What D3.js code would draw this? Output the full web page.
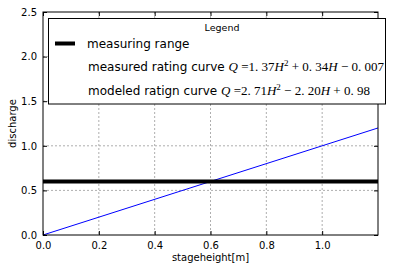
<!DOCTYPE html>
<html>
<head>
<meta charset="utf-8">
<script src="https://cdn.jsdelivr.net/npm/d3@7"></script>
<style>
  body { margin: 0; background: #fff; }
  text { font-family: "DejaVu Sans", sans-serif; }
</style>
</head>
<body>
<div id="vis"></div>
<script>
const xTicks = [0, 0.2, 0.4, 0.6, 0.8, 1.0];
const yTicks = [0, 0.5, 1.0, 1.5, 2.0, 2.5];
const stageH = [0, 1.2];
const dischargeQ = [0, 1.2];
const measuringRange = 0.6;
const legendLabels = ["measuring range", "measured rating curve ", "modeled ratign curve "];
// pieces of the two formulas: [text, italic, superscript]
const formula1 = [["Q", true], [" =1. 37", false], ["H", true], ["2", false, "sup"], [" + 0. 34", false], ["H", true], [" \u2212 0. 007", false]];
const formula2 = [["Q", true], [" =2. 71", false], ["H", true], ["2", false, "sup"], [" \u2212 2. 20", false], ["H", true], [" + 0. 98", false]];

const margin = { top: 12, right: 15, bottom: 36, left: 43 };
const W = 393, H = 271;
const width = W - margin.left - margin.right;
const height = H - margin.top - margin.bottom;

const svg = d3.select("#vis").append("svg")
  .attr("width", W).attr("height", H)
  .append("g")
  .attr("transform", `translate(${margin.left},${margin.top})`);

const x = d3.scaleLinear().domain([0, 1.2]).range([0, width]);
const y = d3.scaleLinear().domain([0, 2.5]).range([height, 0]);

// grid
svg.append("g").selectAll("line").data(xTicks.slice(1)).join("line")
  .attr("x1", d => x(d)).attr("x2", d => x(d))
  .attr("y1", 0).attr("y2", height)
  .attr("stroke", "#999").attr("stroke-width", 0.8).attr("stroke-dasharray", "2,2");
svg.append("g").selectAll("line").data(yTicks.slice(1, -1)).join("line")
  .attr("x1", 0).attr("x2", width)
  .attr("y1", d => y(d)).attr("y2", d => y(d))
  .attr("stroke", "#999").attr("stroke-width", 0.8).attr("stroke-dasharray", "2,2");

// data lines
svg.append("path")
  .datum(stageH.map((h, i) => [h, dischargeQ[i]]))
  .attr("fill", "none").attr("stroke", "#0000ff").attr("stroke-width", 1)
  .attr("d", d3.line().x(d => x(d[0])).y(d => y(d[1])));

svg.append("line")
  .attr("x1", 0).attr("x2", width)
  .attr("y1", y(measuringRange)).attr("y2", y(measuringRange))
  .attr("stroke", "#000").attr("stroke-width", 4);

// axes, ticks inward on all sides
svg.append("g").attr("transform", `translate(0,${height})`)
  .call(d3.axisBottom(x).tickValues(xTicks).tickSizeInner(-4).tickSizeOuter(0).tickPadding(7).tickFormat(d3.format(".1f")));
svg.append("g")
  .call(d3.axisLeft(y).tickValues(yTicks).tickSizeInner(-4).tickSizeOuter(0).tickPadding(6).tickFormat(d3.format(".1f")));
svg.append("g")
  .call(d3.axisTop(x).tickValues(xTicks).tickSizeInner(-4).tickSizeOuter(0).tickFormat(""));
svg.append("g").attr("transform", `translate(${width},0)`)
  .call(d3.axisRight(y).tickValues(yTicks).tickSizeInner(-4).tickSizeOuter(0).tickFormat(""));
svg.selectAll(".domain").remove();
svg.selectAll(".tick text").attr("font-size", 10).attr("fill", "#000").attr("font-family", "DejaVu Sans");
svg.selectAll(".tick line").attr("stroke", "#000");

svg.append("rect")
  .attr("width", width).attr("height", height)
  .attr("fill", "none").attr("stroke", "#000").attr("stroke-width", 1);

// axis labels
svg.append("text")
  .attr("x", width / 2).attr("y", height + 26)
  .attr("text-anchor", "middle").attr("font-size", 10)
  .text("stageheight[m]");
svg.append("text")
  .attr("transform", "rotate(-90)")
  .attr("x", -height / 2).attr("y", -27)
  .attr("text-anchor", "middle").attr("font-size", 10)
  .text("discharge");

// legend
const lg = d3.select("#vis svg").append("g");
lg.append("rect")
  .attr("x", 48.5).attr("y", 18.5).attr("width", 337).attr("height", 85.5)
  .attr("fill", "#fff").attr("stroke", "#000").attr("stroke-width", 1);
lg.append("text")
  .attr("x", 222).attr("y", 31).attr("text-anchor", "middle").attr("font-size", 9.5)
  .text("Legend");
lg.append("line")
  .attr("x1", 55).attr("x2", 75).attr("y1", 43.5).attr("y2", 43.5)
  .attr("stroke", "#000").attr("stroke-width", 4);

const rowY = [47.5, 70.5, 94.5];
const formulas = [null, formula1, formula2];
legendLabels.forEach((lab, i) => {
  const t = lg.append("text")
    .attr("x", i === 0 ? 87 : 88).attr("y", rowY[i]).attr("font-size", 12);
  t.append("tspan").text(lab);
  if (formulas[i]) {
    let up = false;
    formulas[i].forEach(p => {
      const s = t.append("tspan")
        .attr("font-family", "Liberation Serif, DejaVu Serif, serif")
        .attr("font-size", p[2] ? 9 : 13)
        .attr("font-style", p[1] ? "italic" : "normal")
        .text(p[0]);
      if (p[2]) s.attr("dy", -5);
      else if (up) s.attr("dy", 5);
      up = !!p[2];
    });
  }
});
</script>
</body>
</html>
